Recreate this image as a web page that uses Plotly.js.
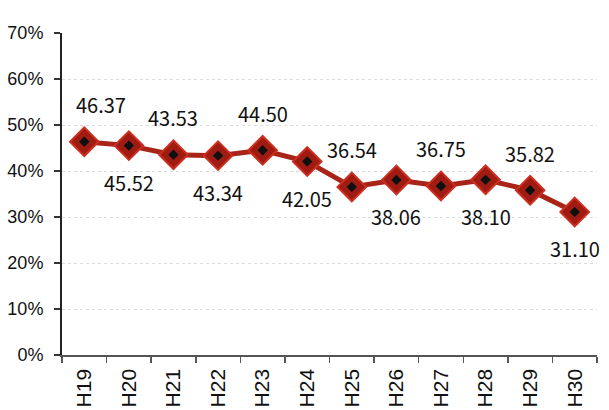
<!DOCTYPE html>
<html>
<head>
<meta charset="utf-8">
<script src="https://cdn.plot.ly/plotly-3.0.1.min.js"></script>
<style>html,body{margin:0;padding:0;background:#fff;}#chart{width:609px;height:410px;}</style>
</head>
<body>
<div id="chart"></div>
<script>
const categories = ["H19","H20","H21","H22","H23","H24","H25","H26","H27","H28","H29","H30"];
const rates = [46.37, 45.52, 43.53, 43.34, 44.50, 42.05, 36.54, 38.06, 36.75, 38.10, 35.82, 31.10];
const labelSide = [1, -1, 1, -1, 1, -1, 1, -1, 1, -1, 1, -1];
const labelXShift = [17, 0, 0, 0, 0, 0, 0, 0, 0, 0, 0, 0];
const yTicks = [0, 10, 20, 30, 40, 50, 60, 70];
const yTickText = yTicks.map(v => v + '%');

const traces = [
  {
    x: categories, y: rates, type: 'scatter', mode: 'lines+markers',
    line: {color: '#a82418', width: 5},
    marker: {symbol: 'diamond', size: 22, color: '#a01c12', line: {color: '#cc2e20', width: 2}},
    hoverinfo: 'skip', showlegend: false
  },
  {
    x: categories, y: rates, type: 'scatter', mode: 'markers',
    marker: {symbol: 'diamond', size: 8, color: '#101010'},
    hoverinfo: 'skip', showlegend: false
  }
];

const annotations = categories.map((c, i) => ({
  x: c, y: rates[i], xref: 'x', yref: 'y',
  text: rates[i].toFixed(2), showarrow: false,
  yshift: 37 * labelSide[i], xshift: labelXShift[i],
  font: {family: '"Noto Sans CJK JP", "DejaVu Sans", sans-serif', size: 20, color: '#111'}
}));

const layout = {
  width: 609, height: 410,
  margin: {l: 62, r: 12, t: 33, b: 55, pad: 0},
  paper_bgcolor: '#fff', plot_bgcolor: '#fff',
  showlegend: false,
  xaxis: {
    type: 'category', tickangle: -90, tickson: 'boundaries',
    ticks: 'outside', ticklen: 6, tickcolor: '#555', tickwidth: 1.5,
    ticklabelstandoff: 4,
    showline: true, linecolor: '#555', linewidth: 1.5,
    showgrid: false, zeroline: false,
    tickfont: {family: '"Liberation Sans", Arial, sans-serif', size: 21, color: '#111'},
    range: [-0.5, 11.5]
  },
  yaxis: {
    range: [0, 70], tickvals: yTicks, ticktext: yTickText,
    ticks: 'outside', ticklen: 6, tickcolor: '#333', tickwidth: 1.5,
    ticklabelstandoff: 7,
    showline: true, linecolor: '#222', linewidth: 2,
    showgrid: true, gridcolor: '#dcdcdc', griddash: 'dot', gridwidth: 1,
    zeroline: false,
    tickfont: {family: '"Liberation Sans", Arial, sans-serif', size: 18, color: '#111'}
  },
  annotations: annotations
};

Plotly.newPlot('chart', traces, layout, {staticPlot: true, displayModeBar: false});
</script>
</body>
</html>
